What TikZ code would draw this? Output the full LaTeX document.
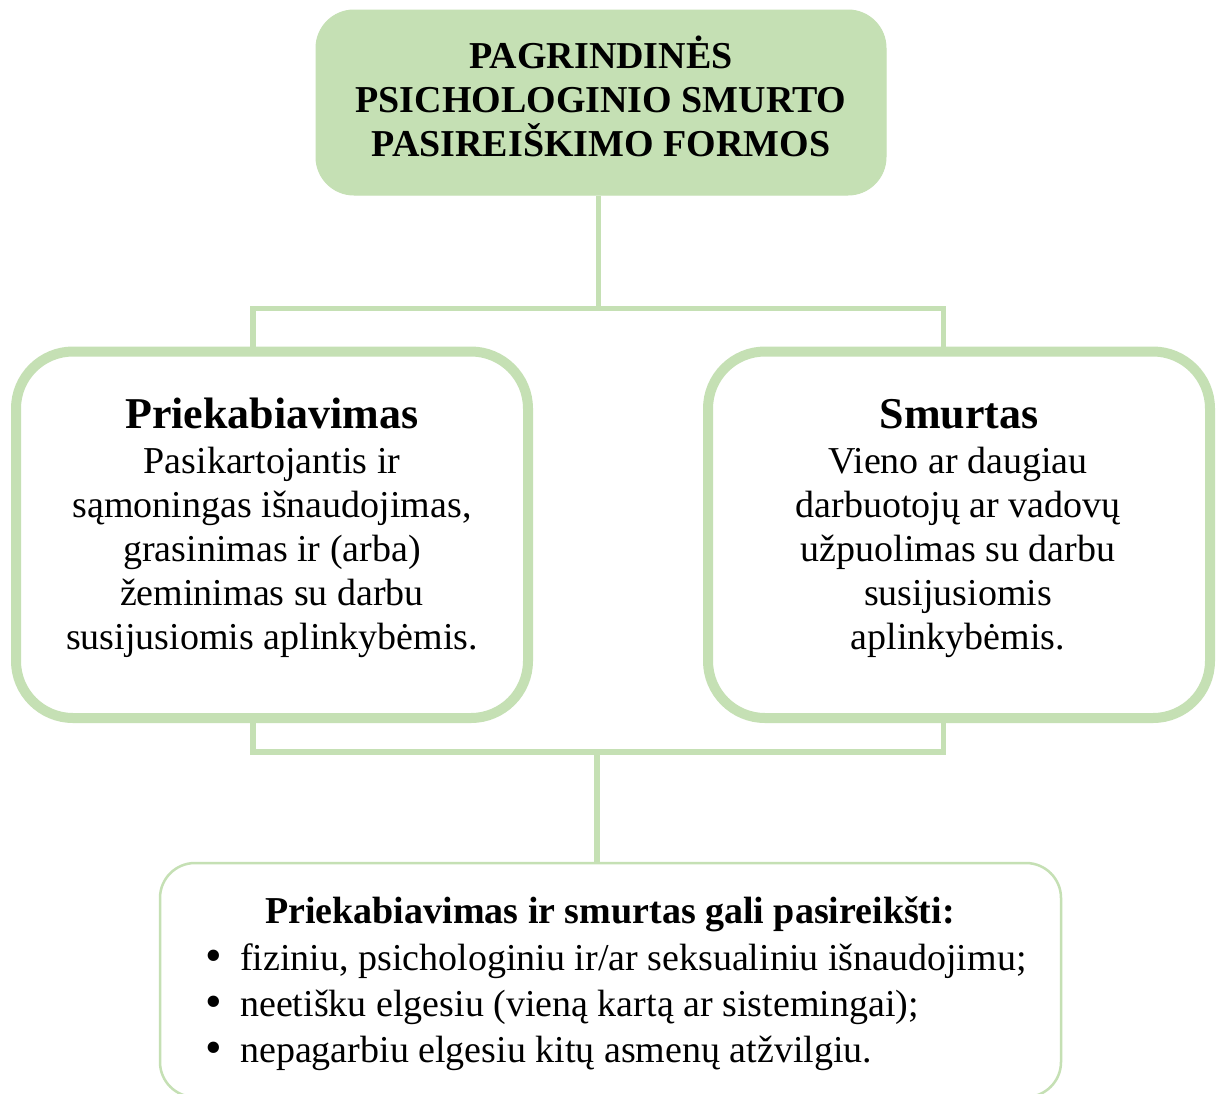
\documentclass[tikz,border=0pt]{standalone}
\usepackage{fontspec}
\setmainfont{Liberation Serif}
\definecolor{lg}{HTML}{C5E0B4}
\newcommand{\bigbul}{\makebox[35pt][l]{\raisebox{-1.5pt}{\scalebox{1.25}{\textbullet}}}}
\begin{document}
\begin{tikzpicture}[x=1pt,y=-1pt,
  conn/.style={draw=lg,line width=5.5pt},
  titlebox/.style={fill=lg,draw=lg,line width=1pt,rounded corners=38pt,minimum width=570pt,minimum height=185pt,inner sep=0pt},
  sidebox/.style={draw=lg,fill=white,line width=10pt,rounded corners=57pt,minimum height=366.5pt,inner sep=0pt},
  listbox/.style={draw=lg,fill=white,line width=2.5pt,rounded corners=35pt,inner sep=0pt},
  txt/.style={inner sep=0pt,font=\fontsize{38}{44}\selectfont},
  headtxt/.style={inner sep=0pt,font=\fontsize{44}{44}\selectfont\bfseries},
  boldtxt/.style={inner sep=0pt,font=\fontsize{38}{44}\selectfont\bfseries},
  listtxt/.style={inner sep=0pt,font=\fontsize{38}{46}\selectfont}]
\useasboundingbox (0,0) rectangle (1218,1093);
\fill[white] (0,0) rectangle (1218,1093);
% boxes
\node[titlebox] (top) at (601,102.5) {};
\node[sidebox,minimum width=512pt] (left) at (272,534.75) {};
\node[sidebox,minimum width=502pt] (right) at (959,534.75) {};
\node[listbox,minimum width=901pt,minimum height=234pt] (bottom) at (610.5,980) {};
% connector points
\coordinate (ht) at (598.5,308.5);
\coordinate (hl) at (253,308.5);
\coordinate (hr) at (943.5,308.5);
\coordinate (bl) at (253,752);
\coordinate (br) at (943.5,752);
\coordinate (bm) at (597,752);
\draw[conn] (top.south -| ht) -- (ht);
\draw[conn] (left.north -| hl) -- (hl) -- (hr) -- (right.north -| hr);
\draw[conn] (left.south -| bl) -- (bl) -- (br) -- (right.south -| br);
\draw[conn] (bm) -- (bottom.north -| bm);
% texts (base anchor of a multi-line node = baseline of its last line)
\node[boldtxt,align=center,anchor=base] (title) at (601,156) {PAGRINDINĖS\\PSICHOLOGINIO SMURTO\\PASIREIŠKIMO FORMOS};
\node[headtxt,anchor=base] (lh) at (272,428) {Priekabiavimas};
\node[txt,align=center,anchor=base] (lb) at (272,649) {Pasikartojantis ir\\sąmoningas išnaudojimas,\\grasinimas ir (arba)\\žeminimas su darbu\\susijusiomis aplinkybėmis.};
\node[headtxt,anchor=base] (rh) at (959,428) {Smurtas};
\node[txt,align=center,anchor=base] (rb) at (958,649) {Vieno ar daugiau\\darbuotojų ar vadovų\\užpuolimas su darbu\\susijusiomis\\aplinkybėmis.};
\node[boldtxt,anchor=base] (bh) at (610,923) {Priekabiavimas ir smurtas gali pasireikšti:};
\node[listtxt,align=left,anchor=base west] (bl1) at (205,1062) {\bigbul fiziniu, psichologiniu ir/ar seksualiniu išnaudojimu;\\\bigbul neetišku elgesiu (vieną kartą ar sistemingai);\\\bigbul nepagarbiu elgesiu kitų asmenų atžvilgiu.};
\end{tikzpicture}
\end{document}
